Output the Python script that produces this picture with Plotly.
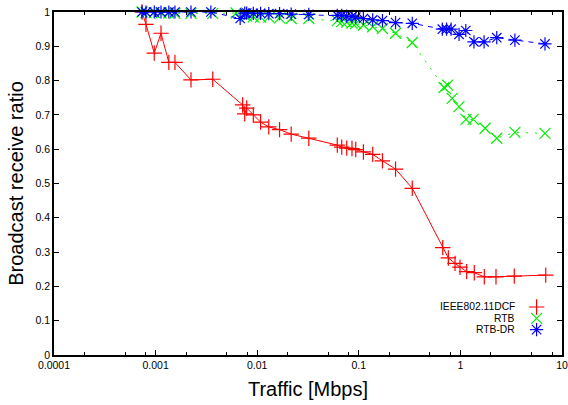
import plotly.graph_objects as go

# ---------------- data ----------------
x_dcf = [0.000735, 0.000804, 0.00097, 0.00113, 0.00135, 0.00155, 0.00223, 0.00365,
         0.00719, 0.00754, 0.00788, 0.00916, 0.0108, 0.0130, 0.0166, 0.0216, 0.0322,
         0.0614, 0.0679, 0.0760, 0.0857, 0.0933, 0.111, 0.137, 0.171, 0.230, 0.336,
         0.670, 0.761, 0.885, 0.991, 1.153, 1.37, 1.72, 2.24, 3.39, 6.92]
y_dcf = [1.0, 0.964, 0.880, 0.938, 0.853, 0.853, 0.802, 0.804,
         0.729, 0.703, 0.720, 0.700, 0.679, 0.665, 0.657, 0.644, 0.632,
         0.612, 0.606, 0.603, 0.602, 0.599, 0.592, 0.585, 0.566, 0.542, 0.486,
         0.313, 0.283, 0.267, 0.256, 0.243, 0.240, 0.228, 0.228, 0.230, 0.233]

x_rtb = [0.000735, 0.000804, 0.00097, 0.00113, 0.00135, 0.00155, 0.00223, 0.00365,
         0.0062, 0.00754, 0.00788, 0.00916, 0.0108, 0.0130, 0.0166, 0.0216, 0.0322,
         0.0614, 0.0679, 0.0760, 0.0857, 0.0933, 0.111, 0.137, 0.171, 0.230, 0.336,
         0.69, 0.75, 0.83, 0.968, 1.135, 1.34, 1.75, 2.28, 3.44, 6.8]
y_rtb = [1.0, 0.998, 0.998, 0.997, 0.997, 0.996, 0.996, 0.996,
         0.997, 0.990, 0.988, 0.986, 0.985, 0.985, 0.983, 0.981, 0.981,
         0.975, 0.972, 0.970, 0.968, 0.966, 0.962, 0.957, 0.952, 0.938, 0.911,
         0.780, 0.787, 0.748, 0.724, 0.687, 0.687, 0.661, 0.632, 0.649, 0.646]

x_dr = [0.000735, 0.000804, 0.00097, 0.00113, 0.00135, 0.00155, 0.00223, 0.0035,
        0.0068, 0.00754, 0.00788, 0.00916, 0.0108, 0.0130, 0.0166, 0.0216, 0.0322,
        0.0614, 0.0679, 0.0760, 0.0857, 0.0933, 0.111, 0.137, 0.171, 0.230, 0.336,
        0.664, 0.73, 0.81, 0.97, 1.13, 1.36, 1.71, 2.28, 3.44, 6.8]
y_dr = [1.0, 1.0, 1.0, 1.0, 1.0, 1.0, 1.0, 1.0,
        0.981, 0.997, 0.997, 0.996, 0.996, 0.995, 0.995, 0.994, 0.993,
        0.990, 0.990, 0.988, 0.987, 0.985, 0.981, 0.977, 0.975, 0.969, 0.967,
        0.950, 0.950, 0.950, 0.935, 0.946, 0.913, 0.913, 0.925, 0.918, 0.907]

series_names = ["IEEE802.11DCF", "RTB", "RTB-DR"]

x_tick_vals = [0.0001, 0.001, 0.01, 0.1, 1, 10]
x_tick_text = ["0.0001", "0.001", "0.01", "0.1", "1", "10"]
y_tick_vals = [0, 0.1, 0.2, 0.3, 0.4, 0.5, 0.6, 0.7, 0.8, 0.9, 1]
y_tick_text = ["0", "0.1", "0.2", "0.3", "0.4", "0.5", "0.6", "0.7", "0.8", "0.9", "1"]
x_minor_vals = [m * d for d in [0.0001, 0.001, 0.01, 0.1, 1] for m in (2, 5, 8)]

# ---------------- styles ----------------
FONT = "Liberation Sans, Arial, Helvetica, sans-serif"
colors = ["#ff0000", "#00ee00", "#0000ff"]
symbols = ["cross-thin-open", "x-thin-open", "asterisk-open"]
dashes = ["solid", "2px,7px", "5px,5px"]

fig = go.Figure()
for xs, ys, name, c, s, d in zip([x_dcf, x_rtb, x_dr], [y_dcf, y_rtb, y_dr],
                                  series_names, colors, symbols, dashes):
    fig.add_trace(go.Scatter(
        x=xs, y=ys, mode="lines+markers", name=name, showlegend=False,
        line=dict(color=c, width=1, dash=d),
        marker=dict(symbol=s, size=11, color=c, line=dict(color=c, width=1.2)),
        cliponaxis=False,
    ))

# legend (gnuplot style: text right-aligned, symbol at right)
leg_x_text = 0.911
leg_x_mark = 0.950
leg_rows = [0.140, 0.107, 0.074]
for name, c, s, yy in zip(series_names, colors, symbols, leg_rows):
    fig.add_annotation(x=leg_x_text, y=yy, xref="paper", yref="paper", text=name,
                       showarrow=False, xanchor="right", yanchor="middle",
                       font=dict(family=FONT, size=10.3, color="#000"))
    fig.add_trace(go.Scatter(
        x=[leg_x_mark], y=[yy], xaxis="x2", yaxis="y2", mode="markers",
        showlegend=False, hoverinfo="skip",
        marker=dict(symbol=s, size=11, color=c, line=dict(color=c, width=1.2)),
        cliponaxis=False,
    ))

axis_common = dict(
    showgrid=False, zeroline=False, showline=True, linecolor="#000", linewidth=1.5,
    mirror="allticks", ticks="inside", ticklen=5, tickwidth=1, tickcolor="#000",
    tickfont=dict(family=FONT, size=10.5, color="#000"), automargin=False,
)

fig.update_layout(
    width=568, height=405,
    margin=dict(l=54, r=6, t=12, b=50),
    paper_bgcolor="white", plot_bgcolor="white",
    font=dict(family=FONT, color="#000"),
    xaxis=dict(
        type="log", range=[-4, 1], tickmode="array",
        tickvals=x_tick_vals, ticktext=x_tick_text,
        title=dict(text="Traffic [Mbps]", font=dict(family=FONT, size=20, color="#000"), standoff=12),
        minor=dict(tickmode="array", tickvals=x_minor_vals, ticks="inside", ticklen=3,
                   tickwidth=1, tickcolor="#000", showgrid=False),
        **axis_common,
    ),
    yaxis=dict(
        range=[0, 1], tickmode="array", tickvals=y_tick_vals, ticktext=y_tick_text,
        title=dict(text="Broadcast receive ratio", font=dict(family=FONT, size=20, color="#000"), standoff=7),
        **axis_common,
    ),
    xaxis2=dict(overlaying="x", range=[0, 1], visible=False, fixedrange=True),
    yaxis2=dict(overlaying="y", range=[0, 1], visible=False, fixedrange=True),
)

fig.write_html("out.html")
